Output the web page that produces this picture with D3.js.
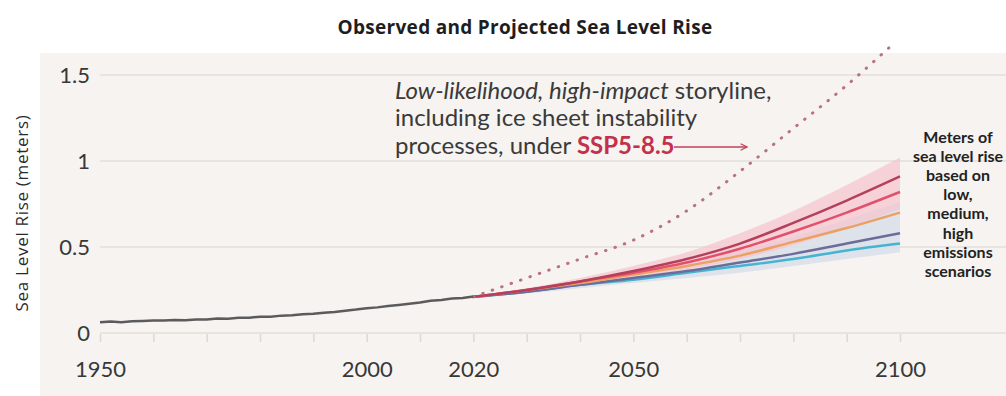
<!DOCTYPE html>
<html>
<head>
<meta charset="utf-8">
<script src="https://cdn.jsdelivr.net/npm/d3@7"></script>
<style>
  body { margin: 0; background: #fff; }
  svg { display: block; }
</style>
</head>
<body>
<div id="chart"></div>
<script>
// chart size
var svgWidth = 1006;
var svgHeight = 396;

// observed sea level, every 2 years 1950-2020
var obsYears = d3.range(1950, 2021, 2);
var obsValues = [0.062, 0.067, 0.063, 0.068, 0.070, 0.073, 0.072, 0.075, 0.074, 0.078,
  0.079, 0.084, 0.083, 0.088, 0.089, 0.095, 0.094, 0.101, 0.103, 0.109,
  0.112, 0.118, 0.122, 0.130, 0.136, 0.144, 0.149, 0.157, 0.163, 0.170,
  0.177, 0.187, 0.192, 0.200, 0.204, 0.212];

// projections, per decade 2020-2100
var projYears = [2020, 2030, 2040, 2050, 2060, 2070, 2080, 2090, 2100];
var ssp585 = [0.21, 0.25, 0.30, 0.36, 0.43, 0.52, 0.64, 0.77, 0.91];
var ssp370 = [0.21, 0.25, 0.30, 0.35, 0.41, 0.49, 0.59, 0.70, 0.82];
var ssp245 = [0.21, 0.25, 0.29, 0.34, 0.39, 0.45, 0.53, 0.61, 0.70];
var ssp126 = [0.21, 0.24, 0.28, 0.32, 0.36, 0.41, 0.46, 0.52, 0.58];
var ssp119 = [0.21, 0.24, 0.28, 0.31, 0.35, 0.39, 0.43, 0.48, 0.52];

// likely ranges
var band585Low = [0.21, 0.24, 0.28, 0.32, 0.37, 0.43, 0.51, 0.61, 0.72];
var band585High = [0.21, 0.26, 0.32, 0.39, 0.47, 0.58, 0.71, 0.86, 1.02];
var band126Low = [0.21, 0.23, 0.26, 0.29, 0.32, 0.35, 0.39, 0.43, 0.47];
var band126High = [0.21, 0.25, 0.30, 0.35, 0.41, 0.48, 0.56, 0.66, 0.76];

// low-likelihood, high-impact storyline
var storyYears = [2020, 2030, 2040, 2050, 2060, 2070, 2080, 2090, 2098];
var storyValues = [0.21, 0.32, 0.43, 0.54, 0.71, 0.94, 1.19, 1.44, 1.66];

// axis ticks
var xTicks = d3.range(1950, 2101, 10);
var xTickLabels = [1950, 2000, 2020, 2050, 2100];
var yTicks = [0, 0.5, 1, 1.5];

var svg = d3.select("#chart")
  .append("svg")
  .attr("width", svgWidth)
  .attr("height", svgHeight);

// panel background
svg.append("rect")
  .attr("x", 40)
  .attr("y", 53)
  .attr("width", svgWidth - 40)
  .attr("height", svgHeight - 53)
  .attr("fill", "#f6f3f0");

// scales
var xScale = d3.scaleLinear().domain([1950, 2100]).range([100, 900]);
var yScale = d3.scaleLinear().domain([0, 1.5]).range([333, 75]);

// gridlines
svg.append("g")
  .selectAll("line")
  .data(yTicks)
  .enter()
  .append("line")
  .attr("x1", 100)
  .attr("x2", svgWidth)
  .attr("y1", d => yScale(d))
  .attr("y2", d => yScale(d))
  .attr("stroke", "#e3dfdb")
  .attr("stroke-width", 1.5);

// x axis: small ticks, few labels
var xAxis = d3.axisBottom(xScale)
  .tickValues(xTicks)
  .tickSize(8)
  .tickPadding(19)
  .tickFormat(d => xTickLabels.indexOf(d) >= 0 ? d : "");

var xAxisG = svg.append("g")
  .attr("transform", "translate(0, 334)")
  .call(xAxis);
xAxisG.select(".domain").remove();
xAxisG.selectAll("line").attr("stroke", "#dcd8d4").attr("stroke-width", 1.5);
xAxisG.selectAll("text")
  .attr("font-family", "Lato, sans-serif")
  .attr("font-size", "22px")
  .attr("fill", "#383838");

// y axis labels
var yAxis = d3.axisLeft(yScale)
  .tickValues(yTicks)
  .tickSize(0)
  .tickPadding(10)
  .tickFormat(d => d);

var yAxisG = svg.append("g")
  .attr("transform", "translate(100, 0)")
  .call(yAxis);
yAxisG.select(".domain").remove();
yAxisG.selectAll("text")
  .attr("font-family", "Lato, sans-serif")
  .attr("font-size", "22px")
  .attr("fill", "#383838");

// ranges
var band = d3.area()
  .x(d => xScale(d.year))
  .y0(d => yScale(d.low))
  .y1(d => yScale(d.high))
  .curve(d3.curveMonotoneX);

var band126 = projYears.map((y, i) => ({ year: y, low: band126Low[i], high: band126High[i] }));
var band585 = projYears.map((y, i) => ({ year: y, low: band585Low[i], high: band585High[i] }));

svg.append("path")
  .datum(band126)
  .attr("d", band)
  .attr("fill", "#d8dfea")
  .attr("opacity", 0.8);

svg.append("path")
  .datum(band585)
  .attr("d", band)
  .attr("fill", "#f7c3cd")
  .attr("opacity", 0.7);

// lines
var line = d3.line()
  .x(d => xScale(d[0]))
  .y(d => yScale(d[1]))
  .curve(d3.curveMonotoneX);

var scenarios = [
  { values: ssp119, color: "#45b4d3" },
  { values: ssp126, color: "#6c6c99" },
  { values: ssp245, color: "#eaa163" },
  { values: ssp370, color: "#e2506b" },
  { values: ssp585, color: "#b5405c" }
];

scenarios.forEach(function(s) {
  svg.append("path")
    .datum(projYears.map((y, i) => [y, s.values[i]]))
    .attr("d", line)
    .attr("fill", "none")
    .attr("stroke", s.color)
    .attr("stroke-width", 2.5);
});

// storyline dotted
svg.append("path")
  .datum(storyYears.map((y, i) => [y, storyValues[i]]))
  .attr("d", line)
  .attr("fill", "none")
  .attr("stroke", "#b9727f")
  .attr("stroke-width", 3)
  .attr("stroke-linecap", "round")
  .attr("stroke-dasharray", "0.5,9.5");

// observed
svg.append("path")
  .datum(obsYears.map((y, i) => [y, obsValues[i]]))
  .attr("d", d3.line().x(d => xScale(d[0])).y(d => yScale(d[1])))
  .attr("fill", "none")
  .attr("stroke", "#5b5b5b")
  .attr("stroke-width", 2.5);

// title
svg.append("text")
  .attr("x", 525)
  .attr("y", 34)
  .attr("text-anchor", "middle")
  .attr("font-family", "'Open Sans', sans-serif")
  .attr("font-weight", "bold")
  .attr("font-size", "19px")
  .attr("letter-spacing", "0.3px")
  .attr("fill", "#1e1e1e")
  .text("Observed and Projected Sea Level Rise");

// y title
svg.append("text")
  .attr("transform", "translate(28, 213) rotate(-90)")
  .attr("text-anchor", "middle")
  .attr("font-family", "'Open Sans', sans-serif")
  .attr("font-size", "17px")
  .attr("letter-spacing", "0.7px")
  .attr("fill", "#2a2a2a")
  .text("Sea Level Rise (meters)");

// annotation
var note = svg.append("text")
  .attr("font-family", "Lato, sans-serif")
  .attr("font-size", "24px")
  .attr("fill", "#3a3a3a");

var l1 = note.append("tspan").attr("x", 395).attr("y", 99);
l1.append("tspan").attr("font-style", "italic").text("Low-likelihood, high-impact");
l1.append("tspan").text(" storyline,");
note.append("tspan").attr("x", 395).attr("y", 126).text("including ice sheet instability");
var l3 = note.append("tspan").attr("x", 395).attr("y", 154);
l3.append("tspan").text("processes, under ");
l3.append("tspan").attr("font-weight", "bold").attr("fill", "#c2304c").text("SSP5-8.5");

// arrow
svg.append("defs").append("marker")
  .attr("id", "arrow")
  .attr("viewBox", "0 0 10 10")
  .attr("refX", 9)
  .attr("refY", 5)
  .attr("markerWidth", 8)
  .attr("markerHeight", 8)
  .attr("orient", "auto")
  .attr("markerUnits", "userSpaceOnUse")
  .append("path")
  .attr("d", "M1,1 L9,5 L1,9")
  .attr("fill", "none")
  .attr("stroke", "#c2405a")
  .attr("stroke-width", 1.5);

svg.append("line")
  .attr("x1", 674)
  .attr("x2", 747)
  .attr("y1", 147)
  .attr("y2", 147)
  .attr("stroke", "#c2405a")
  .attr("stroke-width", 1.5)
  .attr("marker-end", "url(#arrow)");

// right label
var sideLines = ["Meters of", "sea level rise", "based on", "low,", "medium,", "high", "emissions", "scenarios"];
svg.append("g")
  .selectAll("text")
  .data(sideLines)
  .enter()
  .append("text")
  .attr("x", 958)
  .attr("y", (d, i) => 143 + i * 19.1)
  .attr("text-anchor", "middle")
  .attr("font-family", "Lato, sans-serif")
  .attr("font-weight", "bold")
  .attr("font-size", "16px")
  .attr("fill", "#222")
  .text(d => d);
</script>
</body>
</html>
